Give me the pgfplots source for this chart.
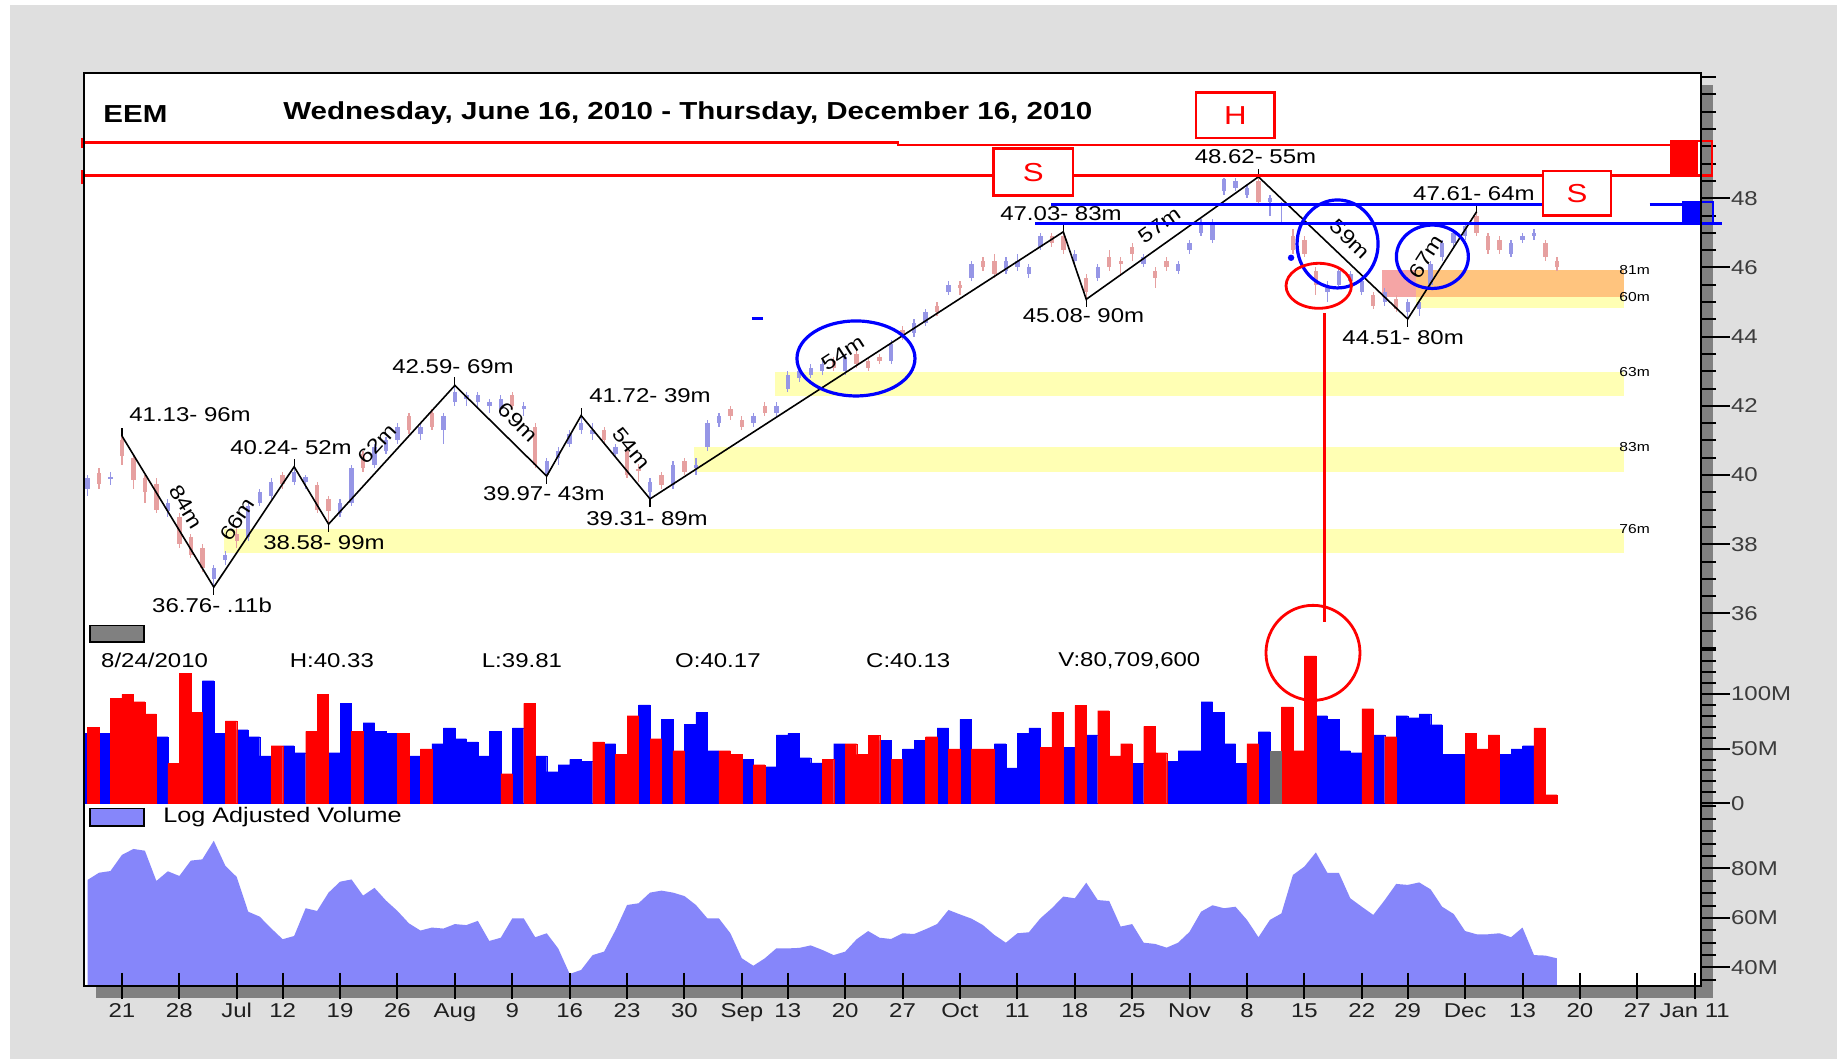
\documentclass[border=0pt]{standalone}
\usepackage{pgfplots}
\pgfplotsset{compat=1.18}
\usepackage{pgfplotstable}
\usepackage{fontspec}
\setmainfont{Liberation Sans}[FakeStretch=1.2]

\definecolor{bgg}{RGB}{223,223,223}
\definecolor{shad}{RGB}{128,128,128}
\definecolor{vred}{RGB}{255,0,0}
\definecolor{vblue}{RGB}{0,0,255}
\definecolor{vgray}{RGB}{112,112,112}
\definecolor{lav}{RGB}{134,134,250}
\definecolor{zy}{RGB}{255,255,180}
\definecolor{zo}{RGB}{255,196,126}
\definecolor{zp}{RGB}{245,165,165}
\definecolor{cb}{RGB}{150,150,230}
\definecolor{cr}{RGB}{230,160,160}
\definecolor{tk}{RGB}{60,60,60}

\newcommand{\lbl}{\fontsize{10}{12}\selectfont}

% candles: day o h l c
\pgfplotstableread{
x o h l c
0 39.6 40.0 39.4 39.9
2 39.9 40.1 39.7 39.95
7 38.95 39.3 38.8 39.2
11 37.0 37.4 36.76 37.3
12 37.55 37.8 37.4 37.7
14 38.2 39.2 38.1 39.1
15 39.2 39.6 39.1 39.5
16 39.4 39.9 39.3 39.8
18 39.8 40.24 39.7 40.1
19 39.8 40.0 39.6 39.95
22 38.9 39.3 38.8 39.2
23 39.2 40.3 39.1 40.2
25 40.3 40.9 40.2 40.8
26 40.7 41.1 40.6 41.0
27 41.0 41.5 40.9 41.4
29 41.2 41.5 41.0 41.4
31 41.3 41.8 40.9 41.7
32 42.1 42.59 42.0 42.4
33 42.2 42.4 42.0 42.3
34 42.1 42.4 41.9 42.3
35 42.0 42.2 41.8 42.1
36 41.9 42.3 41.7 42.2
38 41.9 42.1 41.7 42.0
40 40.0 40.5 39.97 40.4
41 40.5 40.8 40.3 40.7
42 40.9 41.3 40.8 41.2
43 41.3 41.72 41.2 41.5
44 41.2 41.5 41.0 41.3
46 40.6 40.9 40.5 40.8
49 39.5 39.9 39.31 39.8
51 39.7 40.4 39.6 40.3
53 40.2 40.5 40.0 40.3
54 40.8 41.6 40.7 41.5
55 41.5 41.8 41.4 41.7
58 41.5 41.8 41.4 41.7
60 41.8 42.1 41.7 42.0
61 42.5 43.0 42.4 42.9
62 42.8 43.1 42.7 43.0
63 42.9 43.2 42.8 43.1
64 43.0 43.3 42.9 43.2
66 43.0 43.5 42.9 43.4
70 43.3 43.9 43.2 43.8
72 44.1 44.5 44.0 44.4
73 44.4 44.8 44.3 44.7
75 45.3 45.6 45.2 45.5
77 45.7 46.2 45.6 46.1
80 45.9 46.3 45.8 46.2
81 46.0 46.4 45.9 46.2
82 45.8 46.1 45.7 46.0
83 46.6 47.0 46.5 46.9
86 46.2 46.5 46.0 46.4
88 45.7 46.1 45.6 46.0
92 46.1 46.4 46.0 46.3
95 45.9 46.2 45.8 46.1
96 46.5 46.8 46.4 46.7
97 47.0 47.4 46.9 47.3
98 46.8 47.4 46.7 47.3
99 48.2 48.6 48.1 48.55
100 48.3 48.6 48.2 48.5
101 48.1 48.4 48.0 48.3
103 47.9 48.1 47.5 48.0
104 47.6 47.9 47.3 47.6
108 45.3 45.6 45.0 45.4
109 45.5 46.0 45.4 45.9
110 45.6 45.9 45.4 45.8
111 45.3 45.7 45.2 45.6
113 45.0 45.4 44.9 45.3
115 44.7 45.1 44.51 45.0
116 44.8 45.1 44.6 45.0
117 45.5 46.2 45.4 46.1
118 46.3 46.8 46.2 46.7
119 46.7 47.1 46.6 47.0
120 46.9 47.3 46.8 47.2
124 46.4 46.8 46.3 46.7
125 46.8 47.0 46.7 46.9
126 46.9 47.1 46.8 47.0
}\candleup

\pgfplotstableread{
x o h l c
1 40.05 40.2 39.6 39.75
3 41.0 41.13 40.3 40.55
4 40.5 40.6 39.6 39.85
5 39.9 40.0 39.2 39.5
6 39.75 39.9 38.9 39.0
8 38.8 38.9 37.9 38.0
9 38.2 38.3 37.6 37.7
10 37.9 38.0 37.2 37.3
13 38.3 38.5 37.9 38.1
17 40.0 40.1 39.6 39.75
20 39.7 39.8 38.9 39.0
21 39.3 39.4 38.58 38.95
24 40.6 40.7 40.1 40.2
28 41.7 41.8 41.2 41.3
30 41.8 41.9 41.3 41.4
37 42.3 42.4 41.9 42.0
39 41.4 41.5 40.2 40.3
45 41.3 41.4 40.9 41.0
47 40.7 40.8 39.9 40.0
48 40.17 40.33 39.81 40.13
50 40.0 40.1 39.6 39.7
52 40.4 40.5 40.0 40.1
56 41.9 42.0 41.6 41.7
57 41.6 41.7 41.3 41.4
59 42.0 42.1 41.7 41.8
65 43.3 43.4 43.0 43.1
67 43.5 43.6 43.1 43.2
68 43.3 43.4 43.0 43.1
69 43.4 43.5 43.2 43.3
71 44.2 44.3 43.9 44.0
74 44.9 45.0 44.6 44.7
76 45.5 45.6 45.2 45.4
78 46.2 46.3 45.9 46.0
79 46.2 46.4 45.7 45.8
84 46.9 47.0 46.6 46.7
85 46.9 47.03 46.4 46.5
87 45.7 45.8 45.08 45.3
89 46.3 46.5 45.9 46.0
90 46.2 46.3 45.8 46.1
91 46.6 46.7 46.2 46.4
93 45.9 46.0 45.4 45.7
94 46.2 46.3 45.9 46.0
102 48.5 48.62 47.8 47.9
105 46.9 47.1 46.4 46.5
106 46.8 46.9 46.3 46.4
107 45.9 46.0 45.2 45.5
112 45.2 45.3 44.8 44.9
114 45.1 45.2 44.7 44.8
121 47.5 47.61 46.9 47.0
122 46.9 47.0 46.4 46.5
123 46.8 46.9 46.4 46.5
127 46.7 46.8 46.2 46.3
128 46.2 46.3 45.9 46.0
}\candledown

\pgfplotstableread{
x v
1 69.2
3 96.0
4 99.6
5 92.9
6 81.7
8 36.6
9 118.8
10 83.2
13 75.3
17 52.7
20 65.8
21 99.6
24 65.8
28 64.0
30 49.7
37 27.1
39 91.4
45 56.1
47 44.8
48 80.1
50 59.1
52 48.1
56 48.1
57 44.8
59 35.3
65 40.2
67 54.5
68 44.8
69 62.2
71 40.2
74 60.9
76 49.7
78 49.7
79 49.7
84 51.2
85 83.2
87 89.6
89 84.7
90 43.3
91 54.5
93 70.4
94 46.3
102 54.5
105 88.1
106 48.1
107 134.7
112 86.5
114 60.9
121 64.0
122 49.7
123 62.5
127 68.9
128 7.9
}\volred

\pgfplotstableread{
x v
0 64.0
2 64.0
7 60.9
11 112.1
12 64.0
14 67.3
15 60.9
16 43.3
18 52.7
19 46.3
22 46.3
23 91.4
25 73.7
26 65.8
27 64.0
29 43.3
31 54.5
32 68.9
33 59.1
34 56.1
35 43.3
36 65.8
38 68.9
40 43.3
41 28.9
42 35.3
43 40.2
44 38.4
46 54.5
49 89.9
51 76.8
53 72.2
54 83.2
55 48.1
58 40.2
60 33.5
61 62.5
62 64.0
63 41.7
64 36.9
66 54.5
70 57.6
72 49.7
73 57.6
75 68.9
77 76.8
80 54.5
81 32.3
82 64.0
83 68.9
86 51.2
88 62.5
92 36.6
95 38.4
96 48.1
97 48.1
98 92.9
99 83.2
100 54.5
101 36.6
103 65.5
108 80.1
109 76.8
110 48.1
111 46.3
113 62.5
115 80.1
116 78.3
117 81.7
118 71.9
119 44.8
120 44.8
124 44.8
125 49.7
126 52.7
}\volblue

\pgfplotstableread{
x v
104 48.1
}\volgray

\pgfplotstableread{
x v
0 75.3
1 78.2
2 78.9
3 85.4
4 87.8
5 87.1
6 74.9
7 78.8
8 76.9
9 83.1
10 83.6
11 91.1
12 81.1
13 76.5
14 62.5
15 60.5
16 55.8
17 51.4
18 52.7
19 63.9
20 62.8
21 70.2
22 74.6
23 75.5
24 69.0
25 72.1
26 67.0
27 62.8
28 57.8
29 54.9
30 56.1
31 55.7
32 57.5
33 57.1
34 58.8
35 50.7
36 52.0
37 59.8
38 59.8
39 52.2
40 53.8
41 47.7
42 37.4
43 39.0
44 45.0
45 46.4
46 55.1
47 65.2
48 65.9
49 70.2
50 71.0
51 70.2
52 68.8
53 65.2
54 59.8
55 59.8
56 53.8
57 43.7
58 40.7
59 43.7
60 47.7
61 47.7
62 47.9
63 48.9
64 47.1
65 45.0
66 46.4
67 51.4
68 54.7
69 52.0
70 51.5
71 53.8
72 53.5
73 55.4
74 57.5
75 63.2
76 61.4
77 59.7
78 57.1
79 53.1
80 50.0
81 53.8
82 54.2
83 59.8
84 63.9
85 68.6
86 67.9
87 74.2
88 67.2
89 66.8
90 56.5
91 57.5
92 50.0
93 49.5
94 48.0
95 50.0
96 54.4
97 62.5
98 65.1
99 63.9
100 64.5
101 59.2
102 52.2
103 59.2
104 61.8
105 77.3
106 80.7
107 86.4
108 78.2
109 78.2
110 67.9
111 64.5
112 61.2
113 67.2
114 73.7
115 73.3
116 74.3
117 71.5
118 64.5
119 61.6
120 54.7
121 53.4
122 53.4
123 53.8
124 52.2
125 56.1
126 45.0
127 44.8
128 43.7
}\logvol

\pgfplotsset{
  base/.style={
    scale only axis, width=808.7pt, anchor=north west,
    axis line style={draw=none},
    tick align=outside,
    xtick=\empty,
    ytick pos=right, yticklabel pos=right,
    major tick length=14.5pt, minor tick length=7.5pt,
    tick style={black, line width=1pt},
    yticklabel style={font=\lbl, text=tk, anchor=west, xshift=-3pt},
    /pgf/number format/assume math mode=true,
  },
  candle/.style 2 args={draw=none, mark=none, forget plot,
    error bars/.cd, y dir=both, y explicit, error mark=none,
    error bar style={draw=#1, line width=#2}},
}

\begin{document}
\begin{tikzpicture}
\useasboundingbox (0,0) rectangle (918.5pt,-529.5pt);
\fill[white] (0,0) rectangle (918.5pt,-529.5pt);
\fill[bgg] (4.75pt,-2.5pt) rectangle (918.5pt,-529.5pt);
% shadow
\fill[shad] (850.5pt,-42.5pt) rectangle (856.5pt,-499pt);
\fill[shad] (48pt,-493pt) rectangle (856.5pt,-499pt);
% chart area
\fill[white] (41.8pt,-36.35pt) rectangle (850.5pt,-493pt);

% ---------- volume ----------
\begin{axis}[base, at={(41.8pt,-324pt)}, height=77.65pt,
  xmin=0.16, xmax=141.05, ymin=0, ymax=141.95,
  ytick={0,50,100}, yticklabels={0,50M,100M},
  minor ytick={10,20,...,140},
  ybar, bar width=1]
\addplot[fill=vblue, draw=vblue, line width=0.1pt, bar shift=0pt] table[x=x,y=v] {\volblue};
\addplot[fill=vred, draw=vred, line width=0.1pt, bar shift=0pt] table[x=x,y=v] {\volred};
\addplot[fill=vgray, draw=vgray, line width=0.1pt, bar shift=0pt] table[x=x,y=v] {\volgray};
\end{axis}

% ---------- log adjusted volume ----------
\begin{axis}[base, at={(41.8pt,-401.65pt)}, height=91.35pt,
  xmin=-0.34, xmax=140.55, ymin=32.54, ymax=106.21,
  ytick={40,60,80}, yticklabels={40M,60M,80M},
  minor ytick={35,40,...,105},
  xtick={3,8,13,17,22,27,32,37,42,47,52,57,61,66,71,76,81,86,91,96,101,106,111,115,120,125,130,135,140},
  xticklabels={21,28,Jul,12,19,26,Aug,9,16,23,30,Sep,13,20,27,Oct,11,18,25,Nov,8,15,22,29,Dec,13,20,27,Jan 11},
  xtick pos=bottom, xtick style={draw=none},
  xticklabel style={font=\lbl, text=black!88, anchor=north, text height=7.5pt, text depth=2pt, yshift=9.7pt}]
\addplot[fill=lav, draw=none] table[x=x,y=v] {\logvol} \closedcycle;
\end{axis}

% ---------- price ----------
\begin{axis}[base, at={(41.8pt,-36.35pt)}, height=287.65pt,
  xmin=-0.34, xmax=140.55, ymin=35, ymax=51.63,
  ytick={36,38,...,48}, minor ytick={35,35.5,...,51.5},
  clip=false]
% support zones
\fill[zy] (axis cs:11.89,38.43) rectangle (axis cs:133.84,37.76);
\fill[zy] (axis cs:52.83,40.80) rectangle (axis cs:133.84,40.10);
\fill[zy] (axis cs:59.89,42.97) rectangle (axis cs:133.84,42.29);
\fill[zp] (axis cs:112.76,45.93) rectangle (axis cs:115.72,45.15);
\fill[zo] (axis cs:115.72,45.93) rectangle (axis cs:133.84,45.15);
\fill[zy] (axis cs:115.72,45.15) rectangle (axis cs:133.84,44.82);
\node[font=\fontsize{6.5}{7}\selectfont, anchor=west, inner sep=0pt] at (axis cs:133.41,38.43) {76m};
\node[font=\fontsize{6.5}{7}\selectfont, anchor=west, inner sep=0pt] at (axis cs:133.41,40.80) {83m};
\node[font=\fontsize{6.5}{7}\selectfont, anchor=west, inner sep=0pt] at (axis cs:133.41,42.97) {63m};
\node[font=\fontsize{6.5}{7}\selectfont, anchor=west, inner sep=0pt] at (axis cs:133.41,45.93) {81m};
\node[font=\fontsize{6.5}{7}\selectfont, anchor=west, inner sep=0pt] at (axis cs:133.41,45.15) {60m};
% candles (wicks and bodies)
\addplot[candle={cb}{0.6pt}]
  table[x=x, y expr={(\thisrow{h}+\thisrow{l})/2}, y error expr={(\thisrow{h}-\thisrow{l})/2}] {\candleup};
\addplot[candle={cb}{2.2pt}]
  table[x=x, y expr={(\thisrow{o}+\thisrow{c})/2}, y error expr={abs(\thisrow{c}-\thisrow{o})/2}] {\candleup};
\addplot[candle={cr}{0.6pt}]
  table[x=x, y expr={(\thisrow{h}+\thisrow{l})/2}, y error expr={(\thisrow{h}-\thisrow{l})/2}] {\candledown};
\addplot[candle={cr}{2.2pt}]
  table[x=x, y expr={(\thisrow{o}+\thisrow{c})/2}, y error expr={abs(\thisrow{c}-\thisrow{o})/2}] {\candledown};
% zigzag
\addplot[black, line width=0.8pt] coordinates {(3,41.13) (11,36.76) (18,40.24) (21,38.58) (32,42.59) (40,39.97) (43,41.72) (49,39.31) (85,47.03) (87,45.08) (102,48.62) (115,44.51) (121,47.61)};
\foreach \xx/\yy in {3/41.13,18/40.24,32/42.59,43/41.72,85/47.03,102/48.62,121/47.61}
  {\edef\tmp{\noexpand\draw[black, line width=0.6pt] (axis cs:\xx,\yy) -- ++(0pt,4pt);}\tmp}
\foreach \xx/\yy in {11/36.76,21/38.58,40/39.97,49/39.31,87/45.08,115/44.51}
  {\edef\tmp{\noexpand\draw[black, line width=0.6pt] (axis cs:\xx,\yy) -- ++(0pt,-4pt);}\tmp}
% segment volume labels
\path (axis cs:3,41.13) -- node[sloped, above=2pt, pos=0.53, font=\lbl] {84m} (axis cs:11,36.76);
\path (axis cs:11,36.76) -- node[sloped, above=2pt, pos=0.48, font=\lbl] {66m} (axis cs:18,40.24);
\path (axis cs:21,38.58) -- node[sloped, above=2pt, pos=0.49, font=\lbl] {62m} (axis cs:32,42.59);
\path (axis cs:32,42.59) -- node[sloped, above=2pt, pos=0.55, font=\lbl] {69m} (axis cs:40,39.97);
\path (axis cs:43,41.72) -- node[sloped, above=2pt, pos=0.53, font=\lbl] {54m} (axis cs:49,39.31);
\path (axis cs:49,39.31) -- node[sloped, above=2pt, pos=0.49, font=\lbl] {54m} (axis cs:85,47.03);
\path (axis cs:87,45.08) -- node[sloped, above=2pt, pos=0.485, font=\lbl] {57m} (axis cs:102,48.62);
\path (axis cs:102,48.62) -- node[sloped, above=2pt, pos=0.53, font=\lbl] {59m} (axis cs:115,44.51);
\path (axis cs:115,44.51) -- node[sloped, above=2pt, pos=0.49, font=\lbl] {67m} (axis cs:121,47.61);
% pivot labels
\node[font=\lbl] at (axis cs:8.93,41.74) {41.13- 96m};
\node[font=\lbl] at (axis cs:10.85,36.22) {36.76- .11b};
\node[font=\lbl] at (axis cs:17.73,40.80) {40.24- 52m};
\node[font=\lbl] at (axis cs:20.60,38.06) {38.58- 99m};
\node[font=\lbl] at (axis cs:31.84,43.13) {42.59- 69m};
\node[font=\lbl] at (axis cs:39.76,39.47) {39.97- 43m};
\node[font=\lbl] at (axis cs:49.0,42.31) {41.72- 39m};
\node[font=\lbl] at (axis cs:48.74,38.75) {39.31- 89m};
\node[font=\lbl] at (axis cs:84.8,47.55) {47.03- 83m};
\node[font=\lbl] at (axis cs:86.76,44.60) {45.08- 90m};
\node[font=\lbl] at (axis cs:101.74,49.19) {48.62- 55m};
\node[font=\lbl] at (axis cs:114.6,43.98) {44.51- 80m};
\node[font=\lbl] at (axis cs:120.77,48.14) {47.61- 64m};
% red resistance lines
\draw[vred, line width=1.4pt] (axis cs:-0.34,49.607) -- (axis cs:70.6,49.607) -- (axis cs:70.6,49.54) -- (axis cs:137.9,49.54);
\draw[vred, line width=1.4pt] (axis cs:-0.34,48.665) -- (axis cs:141.4,48.665);
\draw[vred, line width=1.2pt] (axis cs:-0.5,49.75) -- (axis cs:-0.5,49.45);
\draw[vred, line width=1.2pt] (axis cs:-0.5,48.82) -- (axis cs:-0.5,48.40);
\fill[vred] (axis cs:137.9,49.66) rectangle (axis cs:140.3,48.64);
\draw[vred, line width=1pt] (axis cs:137.9,49.66) rectangle (axis cs:141.5,48.64);
% blue lines
\draw[vblue, line width=1.4pt] (axis cs:83.93,47.83) -- (axis cs:127.1,47.83);
\draw[vblue, line width=1.4pt] (axis cs:136.07,47.83) -- (axis cs:139.0,47.83);
\draw[vblue, line width=1.4pt] (axis cs:82.57,47.26) -- (axis cs:142.35,47.26);
\fill[vblue] (axis cs:139.0,47.90) rectangle (axis cs:140.47,47.26);
\draw[vblue, line width=1pt] (axis cs:139.0,47.90) rectangle (axis cs:141.6,47.26);
\draw[vblue, line width=1.5pt] (axis cs:57.88,44.53) -- (axis cs:58.84,44.53);
\fill[vblue] (axis cs:104.84,46.28) circle[radius=1.6pt];
% circles
\draw[vblue, line width=1.6pt] (axis cs:66.94,43.37) ellipse[x radius=29.5pt, y radius=18.75pt];
\draw[vblue, line width=1.6pt] (axis cs:108.89,46.68) ellipse[x radius=20.25pt, y radius=22pt];
\draw[vblue, line width=1.6pt] (axis cs:117.15,46.31) ellipse[x radius=18pt, y radius=15.85pt];
\draw[vred, line width=1.4pt] (axis cs:107.25,45.47) ellipse[x radius=16.35pt, y radius=11.25pt];
\draw[vred, line width=1.4pt] (axis cs:107.78,44.68) -- (axis cs:107.78,35.76);
\draw[vred, line width=1.4pt] (axis cs:106.75,34.86) ellipse[x radius=23.5pt, y radius=23.75pt];
% H and S boxes
\draw[vred, line width=1.4pt, fill=white] (axis cs:96.56,51.06) rectangle (axis cs:103.43,49.74);
\node[text=vred, font=\fontsize{13}{14}\selectfont] at (axis cs:100.0,50.40) {H};
\draw[vred, line width=1.4pt, fill=white] (axis cs:78.92,49.43) rectangle (axis cs:85.85,48.075);
\node[text=vred, font=\fontsize{13}{14}\selectfont] at (axis cs:82.39,48.75) {S};
\draw[vred, line width=1.4pt, fill=white] (axis cs:126.79,48.79) rectangle (axis cs:132.71,47.50);
\node[text=vred, font=\fontsize{13}{14}\selectfont] at (axis cs:129.75,48.15) {S};
% x ticks at the bottom of the chart
\pgfplotsinvokeforeach{3,8,13,17,22,27,32,37,42,47,52,57,61,66,71,76,81,86,91,96,101,106,111,115,120,125,130,135,140}{
  \draw[black, line width=1pt] (axis cs:#1,25.23) ++(0pt,6.5pt) -- ++(0pt,-13pt);}
\end{axis}

% frame
\draw[black, line width=1pt] (41.8pt,-36.35pt) rectangle (850.5pt,-493pt);

% titles and texts
\node[anchor=west, inner sep=0pt, font=\fontsize{12.3}{14}\selectfont\bfseries] at (51.5pt,-56.8pt) {EEM};
\node[anchor=west, inner sep=0pt, font=\fontsize{12.3}{14}\selectfont\bfseries] at (141.5pt,-56.8pt) {Wednesday, June 16, 2010 - Thursday, December 16, 2010};
\fill[shad, draw=black, line width=0.8pt] (45.1pt,-312.8pt) rectangle (72.05pt,-321pt);
\node[anchor=west, inner sep=0pt, font=\lbl] at (50.4pt,-330.4pt) {8/24/2010};
\node[anchor=west, inner sep=0pt, font=\lbl] at (144.7pt,-330.4pt) {H:40.33};
\node[anchor=west, inner sep=0pt, font=\lbl] at (240.75pt,-330.4pt) {L:39.81};
\node[anchor=west, inner sep=0pt, font=\lbl] at (337.4pt,-330.4pt) {O:40.17};
\node[anchor=west, inner sep=0pt, font=\lbl] at (432.9pt,-330.4pt) {C:40.13};
\node[anchor=west, inner sep=0pt, font=\lbl] at (529pt,-330.4pt) {V:80,709,600};
\fill[lav, draw=black, line width=0.8pt] (45.1pt,-404.2pt) rectangle (72.05pt,-413pt);
\node[anchor=west, inner sep=0pt, font=\fontsize{10.5}{12}\selectfont] at (81.5pt,-408.3pt) {Log Adjusted Volume};
\end{tikzpicture}
\end{document}
